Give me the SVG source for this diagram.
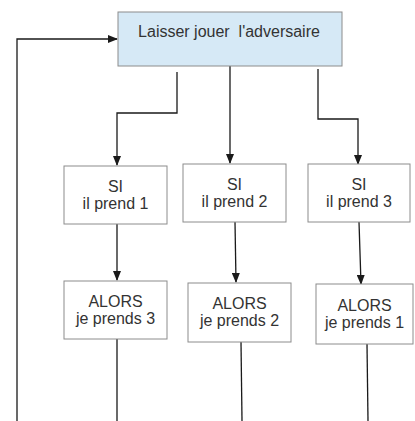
<svg xmlns="http://www.w3.org/2000/svg" width="415" height="421" viewBox="0 0 415 421">
<style>
.box{fill:#ffffff;stroke:#8c8c8c;stroke-width:1}
.top{fill:#d6e9f6;stroke:#8c8c8c;stroke-width:1}
.t{font-family:"Liberation Sans",Arial,sans-serif;font-size:16px;fill:#333333;text-anchor:middle}
.c{fill:none;stroke:#1a1a1a;stroke-width:1.3}
</style>
<defs>
<marker id="ah" markerWidth="10" markerHeight="8" refX="9" refY="4" orient="auto" markerUnits="userSpaceOnUse">
<path d="M0,0 L10,4 L0,8 Z" fill="#1a1a1a"/>
</marker>
</defs>
<rect width="415" height="421" fill="#ffffff"/>
<g id="connectors">
<path class="c" d="M17,421 V39 H117" marker-end="url(#ah)"/>
<path class="c" d="M177,72 V113 H117 V165" marker-end="url(#ah)"/>
<path class="c" d="M230,66 V163" marker-end="url(#ah)"/>
<path class="c" d="M318,69 V119 H358 V164" marker-end="url(#ah)"/>
<path class="c" d="M117,224 V280" marker-end="url(#ah)"/>
<path class="c" d="M235,222 L236,282" marker-end="url(#ah)"/>
<path class="c" d="M359,222 L361,284" marker-end="url(#ah)"/>
<path class="c" d="M117,339 V421"/>
<path class="c" d="M241,342 L242,421"/>
<path class="c" d="M367,344 L368,421"/>
</g>
<g id="n0">
<rect class="top" x="118" y="12" width="224" height="54"/>
<text class="t" x="229" y="37" xml:space="preserve">Laisser jouer  l'adversaire</text>
</g>
<g id="n1">
<rect class="box" x="64" y="166" width="103" height="58"/>
<text class="t" x="115.5" y="192">SI</text>
<text class="t" x="115.5" y="209">il prend 1</text>
</g>
<g id="n2">
<rect class="box" x="183" y="164" width="103" height="58"/>
<text class="t" x="234.5" y="190">SI</text>
<text class="t" x="234.5" y="207">il prend 2</text>
</g>
<g id="n3">
<rect class="box" x="308" y="164" width="102" height="58"/>
<text class="t" x="359" y="190">SI</text>
<text class="t" x="359" y="207">il prend 3</text>
</g>
<g id="n4">
<rect class="box" x="64" y="281" width="103" height="58"/>
<text class="t" x="115.5" y="307">ALORS</text>
<text class="t" x="115.5" y="324">je prends 3</text>
</g>
<g id="n5">
<rect class="box" x="188" y="283" width="103" height="59"/>
<text class="t" x="239.5" y="309">ALORS</text>
<text class="t" x="239.5" y="326">je prends 2</text>
</g>
<g id="n6">
<rect class="box" x="316" y="284" width="97" height="60"/>
<text class="t" x="364.5" y="311">ALORS</text>
<text class="t" x="364.5" y="328">je prends 1</text>
</g>
</svg>
